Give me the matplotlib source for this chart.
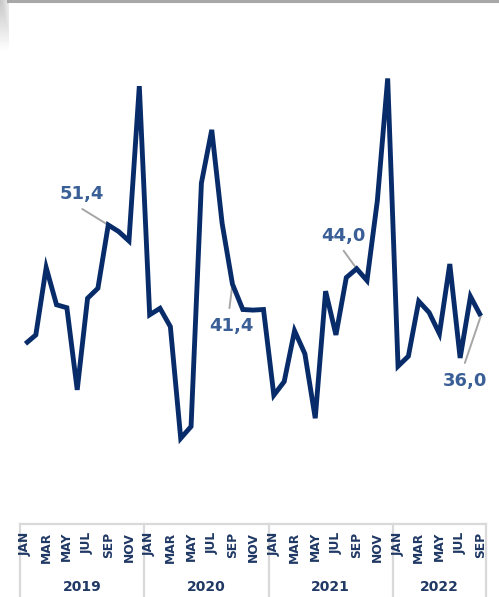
import matplotlib
matplotlib.use("Agg")
import matplotlib.pyplot as plt
from matplotlib.lines import Line2D
import numpy as np

# ---- data ----
years = ["2019", "2020", "2021", "2022"]
months_per_year = [12, 12, 12, 9]
month_names = ["JAN", "FEB", "MAR", "APR", "MAY", "JUN",
               "JUL", "AUG", "SEP", "OCT", "NOV", "DEC"]
values = [31.3, 32.8, 44.2, 37.9, 37.4, 23.5, 39.0, 40.7, 51.4, 50.3, 48.7, 74.9,
          36.2, 37.3, 34.2, 15.3, 17.3, 58.5, 67.5, 51.7, 41.4, 37.1, 37.0, 37.1,
          22.6, 24.9, 33.5, 29.6, 18.7, 40.2, 32.8, 42.5, 44.0, 42.0, 55.5, 76.2,
          27.5, 29.2, 38.5, 36.6, 33.0, 44.8, 28.9, 39.3, 36.0]
labeled_idx = [8, 20, 32, 44]
label_texts = ["51,4", "41,4", "44,0", "36,0"]
# label offsets (pixels) and leader line ends (pixels), relative to the point
label_offsets = [(-26, 31), (-1, -42), (-13, 33), (-16, -65)]
leader_ends = [(-26, 16), (-3, -24), (-13, 18), (-16, -47)]

W, H = 499, 597
DPI = 100
LINE_C = "#082C69"
LABEL_C = "#3A5F96"
TICK_C = "#1F3864"
GRID_C = "#D9D9D9"

fig = plt.figure(figsize=(W / DPI, H / DPI), dpi=DPI)
fig.patch.set_facecolor("white")

n = len(values)
x = np.arange(n)

left_px, right_px = 20.3, 486.0
bot_px, top_px = 524.0, 30.0
ax = fig.add_axes([left_px / W, 1 - bot_px / H,
                   (right_px - left_px) / W, (bot_px - top_px) / H])
ax.plot(x, values, color=LINE_C, lw=3.5, solid_joinstyle="miter",
        solid_capstyle="butt", zorder=3)
ax.set_xlim(-0.5, n - 0.5)
ax.set_ylim(0.8, 84.4)
ax.axis("off")

for i, t, off, le in zip(labeled_idx, label_texts, label_offsets, leader_ends):
    ax.annotate("", xy=(x[i], values[i]), xytext=le, textcoords="offset pixels",
                arrowprops=dict(arrowstyle="-", color="#A6A6A6", lw=1.4,
                                shrinkA=0, shrinkB=0), zorder=2)
    ax.annotate(t, xy=(x[i], values[i]), xytext=off, textcoords="offset pixels",
                ha="center", va="center", fontsize=13, fontweight="bold",
                color=LABEL_C, zorder=4)

# ---- category box ----
bx = fig.add_axes([left_px / W, 0, (right_px - left_px) / W, (H - bot_px) / H])
bx.set_xlim(-0.5, n - 0.5)
bx.set_ylim(H - bot_px, 0)  # pixel-like coordinates, 0 at top of box
bx.axis("off")
bx.plot([-0.5, n - 0.5], [0, 0], color=GRID_C, lw=1.6, clip_on=False)
edges = np.concatenate([[0], np.cumsum(months_per_year)]) - 0.5
for e in edges:
    bx.plot([e, e], [0, H - bot_px], color=GRID_C, lw=1.6, clip_on=False)

idx = 0
for yr, m in zip(years, months_per_year):
    for k in range(m):
        if k % 2 == 0:
            bx.text(idx + k, 8.0, month_names[k], rotation=90, ha="center",
                    va="top", fontsize=8.8, fontweight="bold", color=TICK_C)
    bx.text(idx + (m - 1) / 2, 63, yr, ha="center", va="center",
            fontsize=10, fontweight="bold", color=TICK_C)
    idx += m

# ---- frame decoration at the top ----
fig.add_artist(Line2D([8 / W, 497 / W], [1 - 1.2 / H] * 2, color="#A8A8A8", lw=2.2))
gx = fig.add_axes([0, 1 - 52 / H, 9 / W, 52 / H])
gx.axis("off")
gy, gxx = np.mgrid[0:1:52j, 0:1:9j]
grad = 0.78 + 0.22 * np.clip(np.maximum(gy, gxx * 0.6), 0, 1)
gx.imshow(grad, cmap="gray", vmin=0, vmax=1, aspect="auto",
          extent=[0, 1, 1, 0])

fig.savefig("out.png", dpi=DPI, facecolor="white")
